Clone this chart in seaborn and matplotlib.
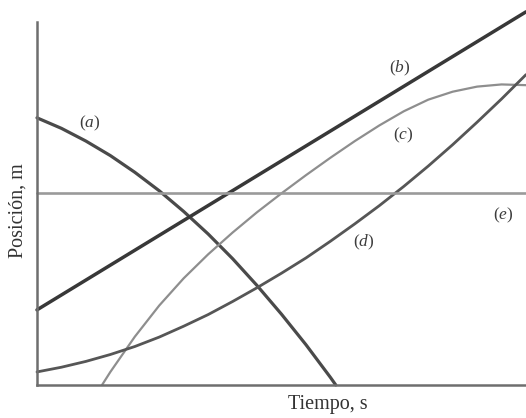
import matplotlib
matplotlib.use("Agg")
import matplotlib.pyplot as plt
import seaborn as sns
import pandas as pd

# Position-time curves (time in s, position in m, arbitrary scale 0-10)
t_a = [0, 0.5, 1.0, 1.5, 2.0, 2.5, 3.0, 3.5, 4.0, 4.5, 5.0, 5.5, 6.0, 6.11]
x_a = [7.36, 7.07, 6.72, 6.32, 5.86, 5.35, 4.78, 4.16, 3.48, 2.74, 1.95, 1.11, 0.21, 0.0]

t_b = [0, 10]
x_b = [2.07, 10.28]

t_c = [1.33, 1.5, 2.0, 2.5, 3.0, 3.5, 4.0, 4.5, 5.0, 5.5, 6.0, 6.5, 7.0, 7.5, 8.0, 8.5, 9.0, 9.5, 10.0]
x_c = [0.0, 0.36, 1.33, 2.19, 2.94, 3.60, 4.20, 4.76, 5.28, 5.78, 6.26, 6.72, 7.15, 7.54, 7.86, 8.08, 8.22, 8.28, 8.26]

t_d = [0, 0.5, 1.0, 1.5, 2.0, 2.5, 3.0, 3.5, 4.0, 4.5, 5.0, 5.5, 6.0, 6.5, 7.0, 7.5, 8.0, 8.5, 9.0, 9.5, 10.0]
x_d = [0.36, 0.49, 0.65, 0.84, 1.06, 1.32, 1.62, 1.94, 2.30, 2.68, 3.08, 3.50, 3.96, 4.44, 4.94, 5.47, 6.03, 6.62, 7.24, 7.88, 8.55]

t_e = [0, 10]
x_e = [5.28, 5.28]

curve_names = ["a", "b", "c", "d", "e"]
curve_colors = {"a": "#4a4a4a", "b": "#383838", "c": "#8e8e8e", "d": "#565656", "e": "#9a9a9a"}
curve_widths = {"a": 2.3, "b": 2.5, "c": 1.6, "d": 2.0, "e": 1.9}

# label anchor points (time, position)
label_t = [1.08, 7.42, 7.48, 6.69, 9.53]
label_x = [7.22, 8.73, 6.89, 3.94, 4.68]

sns.set_style("white")
plt.rcParams["mathtext.fontset"] = "custom"
plt.rcParams["mathtext.rm"] = "Liberation Serif"
plt.rcParams["mathtext.it"] = "Liberation Serif:italic"
plt.rcParams["font.family"] = ["Liberation Serif", "DejaVu Serif"]

fig = plt.figure(figsize=(5.26, 4.18), dpi=100)
ax = fig.add_axes([37 / 526, 33 / 418, 1 - 37 / 526, 363 / 418])

series = {"a": (t_a, x_a), "b": (t_b, x_b), "c": (t_c, x_c), "d": (t_d, x_d), "e": (t_e, x_e)}
frames = []
for name in curve_names:
    tt, xx = series[name]
    frames.append(pd.DataFrame({"t": tt, "x": xx, "curva": name}))
df = pd.concat(frames, ignore_index=True)

for name in curve_names:
    sub = df[df["curva"] == name]
    sns.lineplot(data=sub, x="t", y="x", ax=ax, color=curve_colors[name],
                 linewidth=curve_widths[name], sort=False, estimator=None,
                 legend=False, clip_on=False)

for name, lt, lx in zip(curve_names, label_t, label_x):
    ax.text(lt, lx, "($\\mathit{" + name + "}$)", fontsize=12.5, color="#3c3c3c",
            ha="center", va="center")

ax.set_xlim(0, 10)
ax.set_ylim(0, 10)
ax.set_xticks([])
ax.set_yticks([])
sns.despine(ax=ax)
for side in ("left", "bottom"):
    ax.spines[side].set_color("#6e6e6e")
    ax.spines[side].set_linewidth(1.8)

ax.set_xlabel("")
ax.set_ylabel("")
fig.text(328 / 526, 1 - 405 / 418, "Tiempo, s", fontsize=14.5, color="#333333",
         ha="center", va="center")
fig.text(18 / 526, 1 - 211 / 418, "Posición, m", fontsize=14.5, color="#333333",
         ha="center", va="center", rotation=90)

fig.savefig("out.png", dpi=100, facecolor="white")
